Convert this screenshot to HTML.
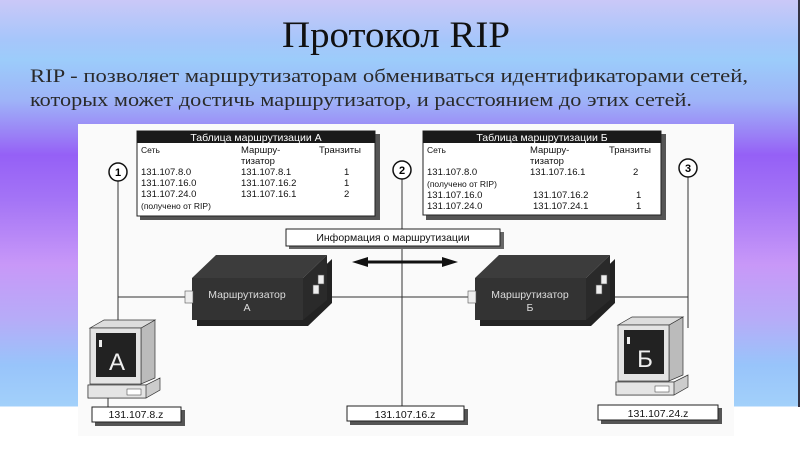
<!DOCTYPE html>
<html><head><meta charset="utf-8"><style>
html,body{margin:0;padding:0;width:800px;height:449px;overflow:hidden}
body{background:linear-gradient(to bottom,#cac8f8 0px,#a6c6fa 40px,#9cccfa 60px,#9eb4f8 100px,#9a80f6 135px,#9560f6 155px,#a474f6 200px,#c898f8 265px,#b6acf8 320px,#98c4fa 365px,#a2d0fa 406px,#ffffff 407px,#ffffff 449px)}
</style></head><body>
<div style="position:absolute;right:0;top:0;width:2px;height:407px;background:#334"></div>
<svg width="800" height="449" xmlns="http://www.w3.org/2000/svg" style="position:absolute;left:0;top:0">
<text x="396" y="47" text-anchor="middle" font-family="Liberation Serif,serif" font-size="37" fill="#111" textLength="228" lengthAdjust="spacingAndGlyphs">Протокол RIP</text>
<text x="30" y="82" font-family="Liberation Serif,serif" font-size="19" fill="#2a2a2a" textLength="718" lengthAdjust="spacingAndGlyphs">RIP - позволяет маршрутизаторам обмениваться идентификаторами сетей,</text>
<text x="30" y="106" font-family="Liberation Serif,serif" font-size="19" fill="#2a2a2a" textLength="662" lengthAdjust="spacingAndGlyphs">которых может достичь маршрутизатор, и расстоянием до этих сетей.</text>
<rect x="78" y="124" width="656" height="312" fill="#fafafa"/>
<g stroke="#333" stroke-width="1" fill="none">
<line x1="118" y1="181" x2="118" y2="330"/><line x1="402" y1="179" x2="402" y2="407"/><line x1="688" y1="177" x2="688" y2="328"/>
<line x1="118" y1="297" x2="688" y2="297"/>
<line x1="108" y1="398" x2="108" y2="408"/>
</g>
<g font-family="Liberation Sans,sans-serif" font-weight="bold" font-size="11">
<circle cx="118" cy="172" r="9" fill="#fff" stroke="#111" stroke-width="1.5"/><text x="118" y="176" text-anchor="middle">1</text>
<circle cx="402" cy="170" r="9" fill="#fff" stroke="#111" stroke-width="1.5"/><text x="402" y="174" text-anchor="middle">2</text>
<circle cx="688" cy="168" r="9" fill="#fff" stroke="#111" stroke-width="1.5"/><text x="688" y="172" text-anchor="middle">3</text>
</g>
<g font-family="Liberation Sans,sans-serif" font-size="9.5" fill="#111">
<rect x="140" y="134" width="240" height="86" fill="#555"/>
<rect x="137" y="131" width="238" height="85" fill="#fff" stroke="#222"/>
<rect x="137" y="131" width="238" height="12" fill="#1a1a1a"/>
<text x="256" y="141" text-anchor="middle" fill="#fff" font-size="10.5">Таблица маршрутизации А</text>
<text x="141" y="153" font-size="8.5">Сеть</text><text x="241" y="153">Маршру-</text><text x="319" y="153">Транзиты</text>
<text x="241" y="164">тизатор</text>
<text x="141" y="175">131.107.8.0</text><text x="241" y="175">131.107.8.1</text><text x="344" y="175">1</text>
<text x="141" y="186">131.107.16.0</text><text x="241" y="186">131.107.16.2</text><text x="344" y="186">1</text>
<text x="141" y="197">131.107.24.0</text><text x="241" y="197">131.107.16.1</text><text x="344" y="197">2</text>
<text x="141" y="209" font-size="8.5">(получено от RIP)</text>

<rect x="426" y="134" width="240" height="86" fill="#555"/>
<rect x="423" y="131" width="238" height="84" fill="#fff" stroke="#222"/>
<rect x="423" y="131" width="238" height="12" fill="#1a1a1a"/>
<text x="542" y="141" text-anchor="middle" fill="#fff" font-size="10.5">Таблица маршрутизации Б</text>
<text x="427" y="153" font-size="8.5">Сеть</text><text x="530" y="153">Маршру-</text><text x="609" y="153">Транзиты</text>
<text x="530" y="164">тизатор</text>
<text x="427" y="175">131.107.8.0</text><text x="530" y="175">131.107.16.1</text><text x="633" y="175">2</text>
<text x="427" y="187" font-size="8.5">(получено от RIP)</text>
<text x="427" y="198">131.107.16.0</text><text x="533" y="198">131.107.16.2</text><text x="636" y="198">1</text>
<text x="427" y="209">131.107.24.0</text><text x="533" y="209">131.107.24.1</text><text x="636" y="209">1</text>

<rect x="289" y="232" width="215" height="17" fill="#666"/>
<rect x="286" y="229" width="214" height="17" fill="#fff" stroke="#222"/>
<text x="393" y="241" text-anchor="middle" font-size="10.5">Информация о маршрутизации</text>
</g>
<g stroke="#111" stroke-width="3"><line x1="365" y1="262" x2="445" y2="262"/></g>
<polygon points="352,262 368,257 368,267" fill="#111"/><polygon points="458,262 442,257 442,267" fill="#111"/>
<g id="r">
<polygon points="197,282 308,282 332,259 332,303 308,326 197,326" fill="#222"/>
<polygon points="192,278 216,255 327,255 303,278" fill="#3c3c3c"/>
<polygon points="303,278 327,255 327,300 303,320" fill="#2a2a2a"/>
<rect x="192" y="278" width="111" height="42" fill="#333"/>
<rect x="185" y="291" width="8" height="12" fill="#eee" stroke="#555" stroke-width=".6"/>
<rect x="313" y="285" width="6" height="9" fill="#eee" stroke="#555" stroke-width=".6"/>
<rect x="318" y="275" width="6" height="9" fill="#eee" stroke="#555" stroke-width=".6"/>
</g>
<text x="247" y="298" text-anchor="middle" font-family="Liberation Sans,sans-serif" font-size="10.5" fill="#ddd">Маршрутизатор</text>
<text x="247" y="311" text-anchor="middle" font-family="Liberation Sans,sans-serif" font-size="10.5" fill="#ddd">А</text>
<use href="#r" transform="translate(283,0)"/>
<text x="530" y="298" text-anchor="middle" font-family="Liberation Sans,sans-serif" font-size="10.5" fill="#ddd">Маршрутизатор</text>
<text x="530" y="311" text-anchor="middle" font-family="Liberation Sans,sans-serif" font-size="10.5" fill="#ddd">Б</text>
<g id="c">
<polygon points="141,328 155,320 155,378 141,384" fill="#bbb" stroke="#333" stroke-width=".7"/>
<polygon points="90,328 104,320 155,320 141,328" fill="#ddd" stroke="#333" stroke-width=".7"/>
<rect x="90" y="328" width="51" height="56" fill="#e4e4e4" stroke="#333" stroke-width=".7"/>
<rect x="96" y="333" width="40" height="44" fill="#222"/>
<rect x="99" y="340" width="3" height="7" fill="#eee"/>
<polygon points="88,385 146,385 160,378 160,390 146,398 88,398" fill="#ccc" stroke="#333" stroke-width=".7"/>
<rect x="88" y="385" width="58" height="13" fill="#e4e4e4" stroke="#333" stroke-width=".7"/>
<rect x="127" y="389" width="14" height="6" fill="#fff" stroke="#333" stroke-width=".5"/>
</g>
<text x="117" y="370" text-anchor="middle" font-family="Liberation Sans,sans-serif" font-size="24" fill="#eee">А</text>
<use href="#c" transform="translate(528,-3)"/>
<text x="645" y="367" text-anchor="middle" font-family="Liberation Sans,sans-serif" font-size="24" fill="#eee">Б</text>
<g font-family="Liberation Sans,sans-serif" font-size="10.5" fill="#111">
<rect x="95" y="410" width="90" height="16" fill="#555"/><rect x="92" y="407" width="89" height="15" fill="#fff" stroke="#222"/>
<text x="136" y="418" text-anchor="middle">131.107.8.z</text>
<rect x="350" y="409" width="118" height="16" fill="#555"/><rect x="347" y="406" width="117" height="15" fill="#fff" stroke="#222"/>
<text x="405" y="418" text-anchor="middle">131.107.16.z</text>
<rect x="601" y="408" width="121" height="16" fill="#555"/><rect x="598" y="405" width="120" height="15" fill="#fff" stroke="#222"/>
<text x="658" y="417" text-anchor="middle">131.107.24.z</text>
</g>
</svg>
</body></html>
